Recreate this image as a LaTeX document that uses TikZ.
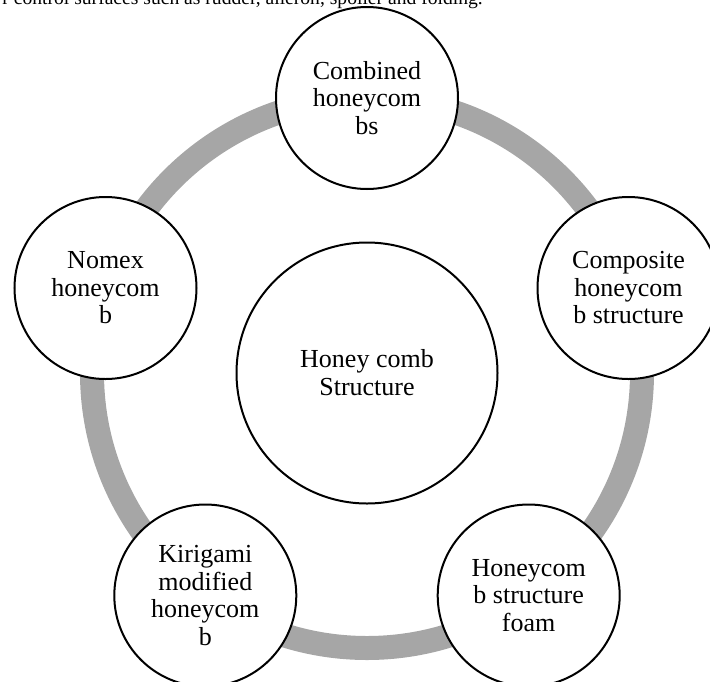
\documentclass[tikz,border=0pt]{standalone}
\usepackage{fontspec}
\setmainfont{Liberation Serif}
\definecolor{ringgray}{HTML}{A6A6A6}
\begin{document}
\begin{tikzpicture}[x=1pt,y=-1pt,
  ring/.style={draw=ringgray,line width=24pt},
  bubble/.style={circle,draw=black,line width=2pt,fill=white,minimum size=182pt,inner sep=0pt,
    align=center,font=\fontsize{26}{27.5}\selectfont},
  hub/.style={circle,draw=black,line width=2pt,fill=white,minimum size=261pt,inner sep=0pt,
    align=center,font=\fontsize{26}{28}\selectfont},
  header/.style={inner sep=0pt,font=\fontsize{19.6}{22}\selectfont}]
\useasboundingbox (0,0) rectangle (710,681);
\coordinate (c) at (367,373);
\node[header,anchor=base east] (hdr) at (483,4.5) {r control surfaces such as rudder, aileron, spoiler and folding.};
\draw[ring] (c) circle (275);
\node[hub] (hub) at (c) {Honey comb\\Structure};
\node[bubble] (top) at (367,98) {Combined\\honeycom\\bs};
\node[bubble] (right) at (628.5,288) {Composite\\honeycom\\b structure};
\node[bubble] (bright) at (528.7,595.5) {Honeycom\\b structure\\foam};
\node[bubble] (bleft) at (205.3,595.5) {Kirigami\\modified\\honeycom\\b};
\node[bubble] (left) at (105.5,288) {Nomex\\honeycom\\b};
\end{tikzpicture}
\end{document}
